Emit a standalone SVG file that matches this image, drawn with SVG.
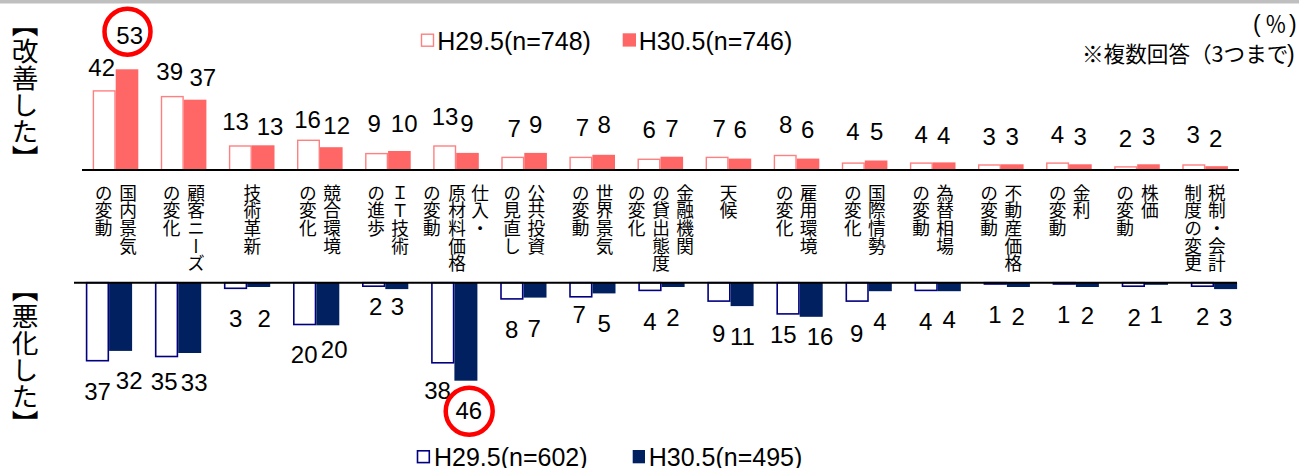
<svg xmlns="http://www.w3.org/2000/svg" width="1299" height="468" viewBox="0 0 1299 468">
<style>
.bg{fill:#ffffff}
.t29{fill:#ffffff;stroke:#ff8080;stroke-width:1.4}
.t30{fill:#ff6666}
.b29{fill:#ffffff;stroke:#000080;stroke-width:1.6}
.b30{fill:#002060}
.axis{stroke:#000000;stroke-width:2}
.num{font-family:"Liberation Sans",Arial,sans-serif;font-size:24px;fill:#000;text-anchor:middle}
.leg{font-family:"Liberation Sans",Arial,sans-serif;font-size:25px;fill:#000}
.cat{font-family:"Noto Sans CJK JP",sans-serif;font-size:17.7px;fill:#000;writing-mode:vertical-rl}
.side{font-family:"Noto Sans CJK JP",sans-serif;font-size:26.7px;fill:#000;writing-mode:vertical-rl}
.note{font-family:"Noto Sans CJK JP",sans-serif;font-size:21.6px;fill:#000}
.paren{font-family:"Liberation Sans",Arial,sans-serif;font-size:23px}
.ring{fill:none;stroke:#ff0000;stroke-width:4.5}
</style>
<rect class="bg" x="0" y="0" width="1299" height="468"/>
<rect x="0" y="0" width="1299" height="3.5" fill="#bfbfbf"/>

<g id="side-labels">
<text class="side" x="25" y="11">【改善した】</text>
<text class="side" x="25" y="276">【悪化した】</text>
</g>

<g id="legend-top">
<rect class="t29" x="421.5" y="34.2" width="12" height="12"/>
<text class="leg" x="437.3" y="50">H29.5(n=748)</text>
<rect class="t30" x="622.7" y="33.3" width="13.3" height="13.3"/>
<text class="leg" x="638.7" y="50">H30.5(n=746)</text>
</g>

<g id="notes">
<text class="note" x="1253" y="32"><tspan class="paren">(</tspan><tspan x="1265">％</tspan><tspan class="paren" x="1289">)</tspan></text>
<text class="note" x="1082" y="61.5">※複数回答（3つまで<tspan class="paren" x="1287">)</tspan></text>
</g>

<g id="top-bars">
<rect class="t29" x="93.4" y="90.9" width="21.6" height="79.1"/>
<rect class="t29" x="161.5" y="96.6" width="21.6" height="73.4"/>
<rect class="t29" x="229.6" y="146.0" width="21.6" height="24.0"/>
<rect class="t29" x="297.7" y="140.3" width="21.6" height="29.7"/>
<rect class="t29" x="365.8" y="153.6" width="21.6" height="16.4"/>
<rect class="t29" x="433.9" y="146.0" width="21.6" height="24.0"/>
<rect class="t29" x="502.0" y="157.4" width="21.6" height="12.6"/>
<rect class="t29" x="570.1" y="157.4" width="21.6" height="12.6"/>
<rect class="t29" x="638.2" y="159.3" width="21.6" height="10.7"/>
<rect class="t29" x="706.3" y="157.4" width="21.6" height="12.6"/>
<rect class="t29" x="774.4" y="155.5" width="21.6" height="14.5"/>
<rect class="t29" x="842.5" y="163.1" width="21.6" height="6.9"/>
<rect class="t29" x="910.6" y="163.1" width="21.6" height="6.9"/>
<rect class="t29" x="978.7" y="165.0" width="21.6" height="5.0"/>
<rect class="t29" x="1046.8" y="163.1" width="21.6" height="6.9"/>
<rect class="t29" x="1114.9" y="166.9" width="21.6" height="3.1"/>
<rect class="t29" x="1183.0" y="165.0" width="21.6" height="5.0"/>

<rect class="t30" x="115.7" y="69.3" width="22.6" height="100.7"/>
<rect class="t30" x="183.8" y="99.7" width="22.6" height="70.3"/>
<rect class="t30" x="251.9" y="145.3" width="22.6" height="24.7"/>
<rect class="t30" x="320.0" y="147.2" width="22.6" height="22.8"/>
<rect class="t30" x="388.1" y="151.0" width="22.6" height="19.0"/>
<rect class="t30" x="456.2" y="152.9" width="22.6" height="17.1"/>
<rect class="t30" x="524.3" y="152.9" width="22.6" height="17.1"/>
<rect class="t30" x="592.4" y="154.8" width="22.6" height="15.2"/>
<rect class="t30" x="660.5" y="156.7" width="22.6" height="13.3"/>
<rect class="t30" x="728.6" y="158.6" width="22.6" height="11.4"/>
<rect class="t30" x="796.7" y="158.6" width="22.6" height="11.4"/>
<rect class="t30" x="864.8" y="160.5" width="22.6" height="9.5"/>
<rect class="t30" x="932.9" y="162.4" width="22.6" height="7.6"/>
<rect class="t30" x="1001.0" y="164.3" width="22.6" height="5.7"/>
<rect class="t30" x="1069.1" y="164.3" width="22.6" height="5.7"/>
<rect class="t30" x="1137.2" y="164.3" width="22.6" height="5.7"/>
<rect class="t30" x="1205.3" y="166.2" width="22.6" height="3.8"/>
</g>

<g id="bottom-bars">
<rect class="b29" x="86.6" y="282.7" width="21.7" height="78.0"/>
<rect class="b29" x="155.7" y="282.7" width="21.7" height="73.8"/>
<rect class="b29" x="224.7" y="282.7" width="21.7" height="5.6"/>
<rect class="b29" x="293.8" y="282.7" width="21.7" height="41.8"/>
<rect class="b29" x="362.8" y="282.7" width="21.7" height="3.5"/>
<rect class="b29" x="431.9" y="282.7" width="21.7" height="80.1"/>
<rect class="b29" x="501.0" y="282.7" width="21.7" height="16.2"/>
<rect class="b29" x="570.0" y="282.7" width="21.7" height="14.1"/>
<rect class="b29" x="639.1" y="282.7" width="21.7" height="7.7"/>
<rect class="b29" x="708.1" y="282.7" width="21.7" height="18.4"/>
<rect class="b29" x="777.2" y="282.7" width="21.7" height="31.2"/>
<rect class="b29" x="846.3" y="282.7" width="21.7" height="18.4"/>
<rect class="b29" x="915.3" y="282.7" width="21.7" height="7.7"/>
<rect class="b29" x="984.4" y="282.7" width="21.7" height="1.3"/>
<rect class="b29" x="1053.4" y="282.7" width="21.7" height="1.3"/>
<rect class="b29" x="1122.5" y="282.7" width="21.7" height="3.5"/>
<rect class="b29" x="1191.6" y="282.7" width="21.7" height="3.5"/>

<rect class="b30" x="109.1" y="282.7" width="23" height="68.2"/>
<rect class="b30" x="178.2" y="282.7" width="23" height="70.3"/>
<rect class="b30" x="247.2" y="282.7" width="23" height="4.3"/>
<rect class="b30" x="316.3" y="282.7" width="23" height="42.6"/>
<rect class="b30" x="385.3" y="282.7" width="23" height="6.4"/>
<rect class="b30" x="454.4" y="282.7" width="23" height="98.0"/>
<rect class="b30" x="523.5" y="282.7" width="23" height="14.9"/>
<rect class="b30" x="592.5" y="282.7" width="23" height="10.7"/>
<rect class="b30" x="661.6" y="282.7" width="23" height="4.3"/>
<rect class="b30" x="730.6" y="282.7" width="23" height="23.4"/>
<rect class="b30" x="799.7" y="282.7" width="23" height="34.1"/>
<rect class="b30" x="868.8" y="282.7" width="23" height="8.5"/>
<rect class="b30" x="937.8" y="282.7" width="23" height="8.5"/>
<rect class="b30" x="1006.9" y="282.7" width="23" height="4.3"/>
<rect class="b30" x="1075.9" y="282.7" width="23" height="4.3"/>
<rect class="b30" x="1145.0" y="282.7" width="23" height="2.1"/>
<rect class="b30" x="1214.1" y="282.7" width="23" height="6.4"/>
</g>

<g id="axes">
<line class="axis" x1="82" y1="170" x2="1239" y2="170"/>
<line class="axis" x1="74" y1="282.7" x2="1237" y2="282.7"/>
</g>

<g id="top-values">
<text class="num" x="101.7" y="76">42</text>
<text class="num" x="169.7" y="80">39</text>
<text class="num" x="235.5" y="130">13</text>
<text class="num" x="307.5" y="127.7">16</text>
<text class="num" x="374.2" y="131.7">9</text>
<text class="num" x="445" y="125" font-size="20">13</text>
<text class="num" x="514.2" y="136.7">7</text>
<text class="num" x="582.5" y="136">7</text>
<text class="num" x="649.2" y="138.3">6</text>
<text class="num" x="719.2" y="136.7">7</text>
<text class="num" x="785.8" y="133.3">8</text>
<text class="num" x="853" y="140">4</text>
<text class="num" x="921.2" y="142.7">4</text>
<text class="num" x="989.2" y="145">3</text>
<text class="num" x="1057.5" y="142.7">4</text>
<text class="num" x="1125.5" y="146.7">2</text>
<text class="num" x="1193.3" y="142.7">3</text>

<text class="num" x="129.7" y="44.3">53</text>
<text class="num" x="202.8" y="86">37</text>
<text class="num" x="270" y="135">13</text>
<text class="num" x="336.7" y="134.3">12</text>
<text class="num" x="404.2" y="131.7">10</text>
<text class="num" x="467" y="131.7">9</text>
<text class="num" x="535.8" y="133.3">9</text>
<text class="num" x="604.2" y="133.3">8</text>
<text class="num" x="672" y="136.7">7</text>
<text class="num" x="740.2" y="137.7">6</text>
<text class="num" x="807.8" y="137.7">6</text>
<text class="num" x="876.7" y="140">5</text>
<text class="num" x="943.7" y="144">4</text>
<text class="num" x="1012.2" y="145">3</text>
<text class="num" x="1080.3" y="145">3</text>
<text class="num" x="1148.8" y="145">3</text>
<text class="num" x="1215.8" y="146.7">2</text>
</g>

<g id="bottom-values">
<text class="num" x="97.5" y="400">37</text>
<text class="num" x="164.2" y="390">35</text>
<text class="num" x="235.8" y="327.3">3</text>
<text class="num" x="304.2" y="363.3">20</text>
<text class="num" x="375.8" y="315">2</text>
<text class="num" x="437.5" y="399">38</text>
<text class="num" x="511.8" y="338.3">8</text>
<text class="num" x="579.2" y="322.7">7</text>
<text class="num" x="650" y="330">4</text>
<text class="num" x="718.8" y="341.7">9</text>
<text class="num" x="783.3" y="342.7">15</text>
<text class="num" x="856.7" y="341.7">9</text>
<text class="num" x="925.8" y="330">4</text>
<text class="num" x="995" y="322.7">1</text>
<text class="num" x="1063.7" y="322.7">1</text>
<text class="num" x="1134.2" y="326">2</text>
<text class="num" x="1202.8" y="325">2</text>

<text class="num" x="129.2" y="389.3">32</text>
<text class="num" x="194.2" y="390.7">33</text>
<text class="num" x="264.2" y="326.7">2</text>
<text class="num" x="334.2" y="358.3">20</text>
<text class="num" x="397.5" y="315">3</text>
<text class="num" x="468.8" y="419">46</text>
<text class="num" x="534.2" y="336.7">7</text>
<text class="num" x="604.2" y="331.7">5</text>
<text class="num" x="673" y="326">2</text>
<text class="num" x="742.5" y="345">11</text>
<text class="num" x="820" y="345">16</text>
<text class="num" x="880" y="330">4</text>
<text class="num" x="949.2" y="328.3">4</text>
<text class="num" x="1018.3" y="325">2</text>
<text class="num" x="1087.5" y="324">2</text>
<text class="num" x="1156.3" y="322.7">1</text>
<text class="num" x="1225.8" y="326">3</text>
</g>

<g id="highlights">
<circle class="ring" cx="127.5" cy="31.7" r="23"/>
<circle class="ring" cx="469.2" cy="411.3" r="23.5"/>
</g>

<g id="categories">
<g id="cat-0"><text class="cat" x="128" y="184">国内景気</text><text class="cat" x="103.5" y="184">の変動</text></g>
<g id="cat-1"><text class="cat" x="196" y="184">顧客ニーズ</text><text class="cat" x="171.6" y="184">の変化</text></g>
<g id="cat-2"><text class="cat" x="252.3" y="184">技術革新</text></g>
<g id="cat-3"><text class="cat" x="332.2" y="184">競合環境</text><text class="cat" x="307.8" y="184">の変化</text></g>
<g id="cat-4"><text class="cat" x="400.2" y="184">ＩＴ技術</text><text class="cat" x="376" y="184">の進歩</text></g>
<g id="cat-5"><text class="cat" x="480.2" y="184">仕入・</text><text class="cat" x="457.2" y="184">原材料価格</text><text class="cat" x="431.8" y="184">の変動</text></g>
<g id="cat-6"><text class="cat" x="536.4" y="184">公共投資</text><text class="cat" x="512.2" y="184">の見直し</text></g>
<g id="cat-7"><text class="cat" x="604.6" y="184">世界景気</text><text class="cat" x="580.6" y="184">の変動</text></g>
<g id="cat-8"><text class="cat" x="685" y="184">金融機関</text><text class="cat" x="661" y="184">の貸出態度</text><text class="cat" x="636.6" y="184">の変化</text></g>
<g id="cat-9"><text class="cat" x="728.5" y="184">天候</text></g>
<g id="cat-10"><text class="cat" x="808.6" y="184">雇用環境</text><text class="cat" x="784.6" y="184">の変化</text></g>
<g id="cat-11"><text class="cat" x="876.8" y="184">国際情勢</text><text class="cat" x="852.8" y="184">の変化</text></g>
<g id="cat-12"><text class="cat" x="945" y="184">為替相場</text><text class="cat" x="921" y="184">の変動</text></g>
<g id="cat-13"><text class="cat" x="1013.3" y="184">不動産価格</text><text class="cat" x="989" y="184">の変動</text></g>
<g id="cat-14"><text class="cat" x="1081.6" y="184">金利</text><text class="cat" x="1057.6" y="184">の変動</text></g>
<g id="cat-15"><text class="cat" x="1149.8" y="184">株価</text><text class="cat" x="1125" y="184">の変動</text></g>
<g id="cat-16"><text class="cat" x="1216.8" y="184">税制・会計</text><text class="cat" x="1193.2" y="184">制度の変更</text></g>
</g>

<g id="legend-bottom">
<rect class="b29" x="417.5" y="450.8" width="11.8" height="11.8"/>
<text class="leg" x="434" y="465.5">H29.5(n=602)</text>
<rect class="b30" x="632.7" y="450" width="12.3" height="13.3"/>
<text class="leg" x="648.7" y="465.5">H30.5(n=495)</text>
</g>
</svg>
